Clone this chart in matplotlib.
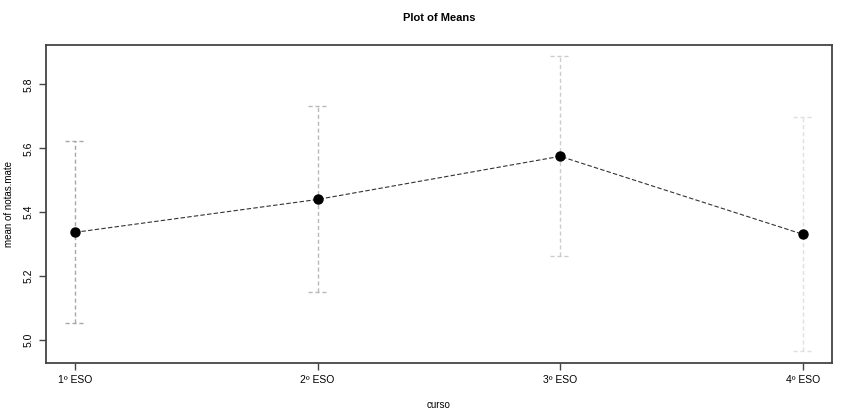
import numpy as np
import matplotlib
matplotlib.use('Agg')
import matplotlib.pyplot as plt

cursos = ['1º ESO', '2º ESO', '3º ESO', '4º ESO']
means = [5.337, 5.440, 5.575, 5.331]
upper = [5.622, 5.734, 5.888, 5.697]
lower = [5.053, 5.150, 5.263, 4.966]
bar_colors = ['#a8a8a8', '#b8b8b8', '#cccccc', '#e0e0e0']

x = np.arange(1, len(cursos) + 1)

plt.rcParams['font.family'] = ['Liberation Sans', 'DejaVu Sans']
fig = plt.figure(figsize=(8.48, 4.15), dpi=100)
ax = fig.add_axes([0.054, 0.126, 0.927, 0.766])

for xi, lo, hi, c in zip(x, lower, upper, bar_colors):
    ax.plot([xi, xi], [lo, hi], color=c, lw=1, ls=(0, (3, 2)))
    for yv in (lo, hi):
        ax.plot([xi - 0.04, xi + 0.04], [yv, yv], color=c, lw=1, ls=(0, (3, 2)))

ax.plot(x, means, color='#333333', lw=0.8, ls=(0, (4, 2)))
ax.plot(x, means, 'o', color='black', markersize=6.5)

ax.set_xlim(0.88, 4.12)
ax.set_ylim(4.929, 5.924)
ax.set_xticks(x)
ax.set_xticklabels(cursos, fontsize=7.5)
ax.set_yticks([5.0, 5.2, 5.4, 5.6, 5.8])
ax.set_yticklabels(['5.0', '5.2', '5.4', '5.6', '5.8'], fontsize=7.5, rotation=90, va='center')
ax.tick_params(length=5, width=1, color='#444444', pad=4)
for s in ax.spines.values():
    s.set_color('#444444')
    s.set_linewidth(1.3)

ax.set_title('Plot of Means', fontsize=8, fontweight='bold', pad=17)
ax.set_xlabel('curso', fontsize=7, labelpad=11)
ax.set_ylabel('mean of notas.mate', fontsize=7, labelpad=7)

fig.savefig('out.png', dpi=100, facecolor='white')
